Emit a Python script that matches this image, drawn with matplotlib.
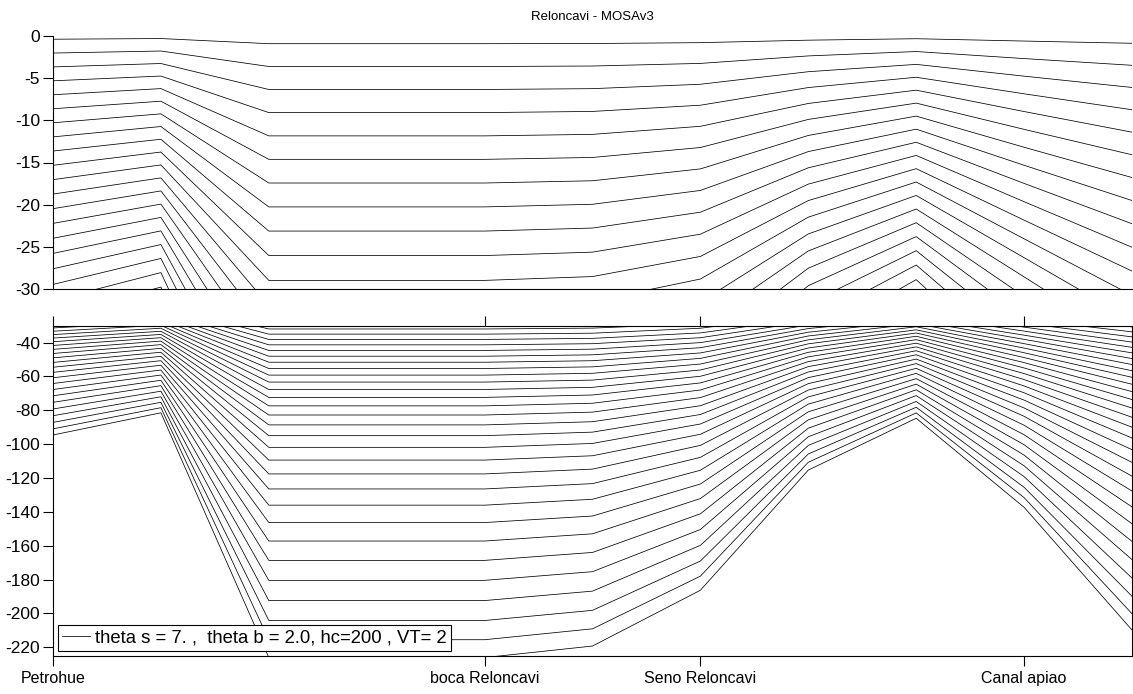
import numpy as np
import matplotlib
matplotlib.use('Agg')
import matplotlib.pyplot as plt

plt.rcParams['font.family'] = ['Liberation Sans', 'DejaVu Sans']
plt.rcParams['axes.unicode_minus'] = False

stations = np.arange(1, 12)
h = np.array([96.3, 82.9, 231.0, 231.0, 231.0, 224.0, 190.2, 117.5, 86.2, 140.0, 214.3])
zeta = 0.4

tick_pos = [1, 5, 7, 10]
tick_names = ['Petrohue', 'boca Reloncavi', 'Seno Reloncavi', 'Canal apiao']

# vertical grid parameters (from the legend)
theta_s = 7.0
theta_b = 2.0
hc = 200.0
N = 40

# s-levels at rho points, Vtransform=2 / Vstretching=4
s = (np.arange(1, N + 1) - N - 0.5) / N
Csur = (1 - np.cosh(theta_s * s)) / (np.cosh(theta_s) - 1)
C = (np.exp(theta_b * Csur) - 1) / (1 - np.exp(-theta_b))
Zo = (hc * s[:, None] + h[None, :] * C[:, None]) / (hc + h[None, :])
z = zeta + (zeta + h[None, :]) * Zo

fig = plt.figure(figsize=(11.33, 6.94), dpi=100)
W, H = 1133.0, 694.0
ax1 = fig.add_axes([53 / W, 1 - 289.3 / H, 1079 / W, (289.3 - 35.7) / H])
ax2 = fig.add_axes([53 / W, 1 - 655.7 / H, 1079 / W, (655.7 - 325.7) / H])

for ax in (ax1, ax2):
    for k in range(N):
        ax.plot(stations, z[k], color='k', lw=0.55)
    ax.set_xlim(1, 11)
    for sp in ax.spines.values():
        sp.set_linewidth(0.8)
    ax.tick_params(axis='y', direction='out', length=7.2, width=0.8, pad=2, labelsize=12.5)

# top panel
ax1.set_ylim(-30, 0)
ax1.set_yticks(np.arange(-30, 1, 5))
ax1.set_xticks([])
ax1.spines['top'].set_visible(False)
ax1.spines['right'].set_visible(False)
ax1.set_title('Reloncavi - MOSAv3', fontsize=9.5, pad=11)

# bottom panel
ax2.set_ylim(-225, -30)
ax2.set_yticks(np.arange(-220, -39, 20))
ax2.set_xticks(tick_pos)
ax2.set_xticklabels(tick_names)
ax2.tick_params(axis='x', direction='out', length=7.2, width=0.8, top=True,
                pad=4, labelsize=11.5)

leg = ax2.legend([ax2.lines[0]], ['theta s = 7. ,  theta b = 2.0, hc=200 , VT= 2'],
                 loc='lower left', fancybox=False, framealpha=1, edgecolor='k',
                 fontsize=13.3, handlelength=1.5, handletextpad=0.25,
                 borderpad=0.25, borderaxespad=0.25)
leg.get_frame().set_linewidth(0.8)

fig.savefig('out.png', dpi=100)
